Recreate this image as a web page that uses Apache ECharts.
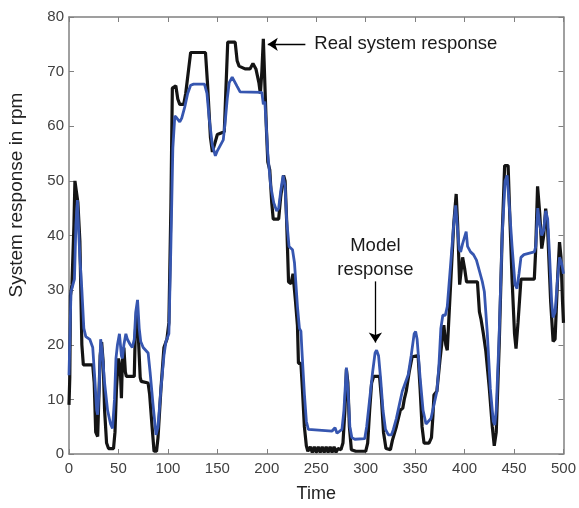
<!DOCTYPE html>
<html><head><meta charset="utf-8">
<script src="https://cdn.jsdelivr.net/npm/echarts@6/dist/echarts.min.js"></script>
<style>html,body{margin:0;padding:0;background:#fff}#c{width:579px;height:508px}</style>
</head><body><div id="c"></div>
<script>
// Real system response (black)
const realTime = [0,0.8,1.5,3,5,6,8,9,11,13,14.5,24,25.5,27,29,30,31.5,33,34.5,36,38,40,45,46.5,48,50,52,53,54,55.5,57,58,66,67,68.5,70,72,73,80,81.5,84,86,88.5,90,93,96,99,101,103,104.5,108,110,112,116,118,121,123,138,140,143,145,147,150,157,158.5,160.5,168,170,172,178,183,186,189,192,193.5,195,196.5,198,199.5,201,203,205,206.5,212,214,217,218.5,220,222,224.5,226.5,229,231,232,234.5,236,238,240,241.5,244,246,248,250,252,254,256,258,260,262,264,266,268,270,272,275,277,279,280.5,282,283.5,285.5,290,300,302,304,306,308,314,316,318,320.5,325,327,331,335,337.5,339,341,344,347,353,355,357,359,364,366.5,368,369,372,375,379,381,382.5,385,389,391.5,393,395,396.5,398,400,402,413,415,416.5,419,421.5,425,428,430,432,435,438,440.5,444,446,448,450.5,452,454,457,470.5,471.8,473.8,476,478,480,482,484,487,489.5,491.5,494,496,497.5,499,500];
const realRpm  = [9,14,29,31,42,50,50,46,39,20,16.3,16.3,13,4,3.2,3.5,18,20.5,17,8,2,1,1,4,12,17.5,15,10.2,17,19.5,15,14.2,14.2,22,26.6,22,14,13.3,13,11,5,0.5,0.5,3,12,19.5,21,24,45,67,67.4,65,64,64,66,70.5,73.5,73.5,68,58,55.3,55.5,58.5,59,66,75.4,75.4,72,71,70.5,70.5,71.5,70.5,68,66,70,76,76,60,53.5,52,46,43,43,47,51,50,43,31.5,31.2,33,28,23.5,16.6,16.6,12,5,1.5,0.5,1.3,0.3,1.3,0.3,1.3,0.3,1.3,0.3,1.3,0.3,1.3,0.3,1.3,0.3,1,0.8,2,8,15.5,13,5,0.8,0.5,0.5,2,8,13,14.2,14.2,10,4,1,0.8,2.5,5,8,8.4,10,11.5,15,17.8,18,12,5,2,2,3,7,10.8,11.5,17,23.6,20,19,28,42,47.6,42,31,31,36,34,31.5,31.5,26,24.8,22,18.8,12,5,1.5,4,20,40,52.8,52.8,42,32,22,19.3,24,32,32,37,49,44,37.6,40,44.9,41,28,20.6,21,32,38.8,36,28,24];
// Model response (blue)
const modelTime = [0,1,2,4,5.5,7,8.5,10,11,13,15,17,21,24,26,28,29,30.5,32,33.5,36,39,42,44,46,47.5,49,51,53,54,55.5,57.5,59,62,64,66,67.5,69.3,71,72.5,75,80,82,85,88,90,93,96,98,101,103,105,107,109,112,114,117,120,123,126,137,139.5,142,145,148,150,153,156,158,160,162,165,167,170,173,195,196.5,198,199.5,201,204,207,210,212,214,216.5,218.5,220,222.5,226,228,231,233,234.5,235.5,238,240,242,244,266,269,271,273,276,278,280.5,282,284,286,289,299,301,304,307,309.5,311,313,315,317.5,320,323,326,328,331,334,337,340,343,346,349,350.5,352,355,358,361,363,366,369,372,374,376,378,380.5,382.5,386,389,391,393,394.5,396,398,401.6,403,406,409,412,415,418,420,423,426,429,430.5,432,435,438,441,443,445,448,451,453,455,457,460,470.5,472,474,476,478,480,482,484,486,488,489.5,491.5,494,496,498,500];
const modelRpm  = [14.4,22,29.7,31,32,42,46.5,40,36,30,23,21.5,21,19.5,14,8,7.2,12,21,19,13,8,5.5,4.7,10,17.5,20,22,18,17.5,20,22,21,20,19.5,21,26,28.2,23,20.6,19.5,18.5,15,9,3.5,5,12,18,20.6,22,38,56,61.9,61.5,60.8,61.5,63.5,66,67.5,67.7,67.7,66,61,56.5,54.6,55.5,56.5,57.5,61,65,68,69,68.8,67.3,66.3,66.2,64,64.5,60,55,49,46,44.5,45,48,51,49,43,38,37.4,35,27,23,22.5,19,11,6,4.5,4.2,4.2,4.8,3.8,3.5,4.5,8,15.8,12,5,3,2.7,2.8,5,10,15,18.5,19,18,14,8,4.5,3.5,3.5,4.5,6.5,9,11.5,13,14.5,18,22,22.4,21,14,8,5.5,5.3,6.5,9,11.5,16,23,25.4,25.4,27,35,42,45.5,41,37.5,37,38.5,40.7,38,37,36.5,35.5,33.5,31.5,29.7,22,12,6,5.3,8,22,40,50,51,46,38,31,30.3,33,36,36.5,37,38,45,42,40,41,44.5,43,36,28,25,26,32,36,35,33];

const xMin = 0, xMax = 500, xStep = 50;
const yMin = 0, yMax = 80, yStep = 10;
const xTitle = 'Time';
const yTitle = 'System response in rpm';
const realLabel = 'Real system response';
const modelLabel = ['Model', 'response'];
// annotation anchor points (data units)
const realArrow = [[239, 75], [201, 75]];
const realTextAt = [248, 75.1];
const modelArrow = [[309.8, 31.6], [309.8, 20.4]];
const modelTextAt = [[309.8, 38.1], [309.8, 33.7]];

const zip = (a, b) => a.map((v, i) => [v, b[i]]);
const FONT = '"Liberation Sans", Arial, sans-serif';
const axisColor = '#808080';
const labelColor = '#404040';

const chart = echarts.init(document.getElementById('c'), null, {renderer: 'canvas'});
const baseX = {type: 'value', min: xMin, max: xMax, interval: xStep,
  axisLine: {show: true, onZero: false, lineStyle: {color: axisColor, width: 1.5}},
  axisTick: {show: true, inside: true, length: 5, lineStyle: {color: axisColor}},
  splitLine: {show: false}};
const baseY = {type: 'value', min: yMin, max: yMax, interval: yStep,
  axisLine: {show: true, onZero: false, lineStyle: {color: axisColor, width: 1.5}},
  axisTick: {show: true, inside: true, length: 5, lineStyle: {color: axisColor}},
  splitLine: {show: false}};

chart.setOption({
  animation: false,
  backgroundColor: '#fff',
  grid: {left: 69, right: 13, top: 17, bottom: 52},
  xAxis: [
    Object.assign({}, baseX, {position: 'bottom', name: xTitle, nameLocation: 'middle', nameGap: 31,
      nameTextStyle: {fontFamily: FONT, fontSize: 18, color: '#222'},
      axisLabel: {fontFamily: FONT, fontSize: 15, color: labelColor, margin: 7}}),
    Object.assign({}, baseX, {position: 'top', axisLabel: {show: false}})
  ],
  yAxis: [
    Object.assign({}, baseY, {position: 'left',
      axisLabel: {fontFamily: FONT, fontSize: 15, color: labelColor, margin: 5}}),
    Object.assign({}, baseY, {position: 'right', axisLabel: {show: false}})
  ],
  series: [
    {type: 'line', name: 'Real', data: zip(realTime, realRpm), showSymbol: false,
      lineStyle: {color: '#141414', width: 3.2}, itemStyle: {color: '#141414'},
      markLine: {silent: true, symbol: ['none', 'arrow'], symbolSize: 10, animation: false,
        label: {show: false},
        lineStyle: {color: '#000', width: 1.3, type: 'solid'},
        data: [
          [{coord: realArrow[0]}, {coord: realArrow[1]}],
          [{coord: modelArrow[0]}, {coord: modelArrow[1]}]
        ]}},
    {type: 'line', name: 'Model', data: zip(modelTime, modelRpm), showSymbol: false,
      lineStyle: {color: '#3656b0', width: 2.8}, itemStyle: {color: '#3656b0'}}
  ]
});

function placeText() {
  const p1 = chart.convertToPixel({gridIndex: 0}, realTextAt);
  const m1 = chart.convertToPixel({gridIndex: 0}, modelTextAt[0]);
  const m2 = chart.convertToPixel({gridIndex: 0}, modelTextAt[1]);
  const st = {font: '18.5px ' + FONT, fill: '#1a1a1a', verticalAlign: 'middle'};
  chart.setOption({graphic: [
    {type: 'text', x: p1[0], y: p1[1], style: Object.assign({text: realLabel, align: 'left'}, st)},
    {type: 'text', x: m1[0], y: m1[1], style: Object.assign({text: modelLabel[0], align: 'center'}, st)},
    {type: 'text', x: m2[0], y: m2[1], style: Object.assign({text: modelLabel[1], align: 'center'}, st)},
    {type: 'text', x: 17, y: 195, rotation: Math.PI / 2,
      style: {text: yTitle, font: '19px ' + FONT, fill: '#222', align: 'center', verticalAlign: 'middle'}}
  ]});
}
placeText();
</script>
</body></html>
